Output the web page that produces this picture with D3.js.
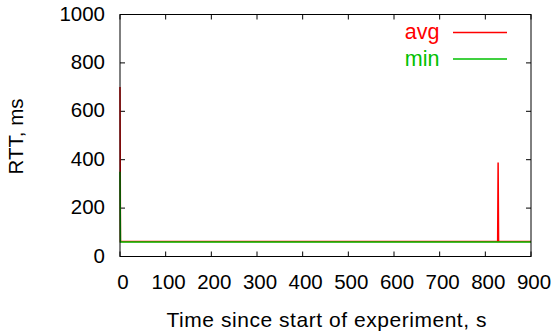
<!DOCTYPE html>
<html>
<head>
<meta charset="utf-8">
<script src="https://cdn.jsdelivr.net/npm/d3@7"></script>
<style>
  body { margin: 0; background: #fff; }
  text { font-family: "Liberation Sans", Arial, sans-serif; }
</style>
</head>
<body>
<svg id="chart" width="555" height="335"></svg>
<script>
// RTT samples, [time s, ms]
let avgData = [[0, 700], [1, 62], [827, 62], [828, 388], [829, 62], [900, 62]];
let minData = [[0, 350], [1, 60], [900, 60]];
let xTicks = [0, 100, 200, 300, 400, 500, 600, 700, 800, 900];
let yTicks = [0, 200, 400, 600, 800, 1000];
let seriesNames = ['avg', 'min'];
let seriesColors = ['#ff0000', '#00c000'];

let svg = d3.select('#chart');

let plotLeft = 120, plotRight = 531, plotTop = 14.5, plotBottom = 256.5;

let x = d3.scaleLinear()
          .domain([0, 900])
          .range([plotLeft, plotRight]);

let y = d3.scaleLinear()
          .domain([0, 1000])
          .range([plotBottom, plotTop]);

let tickLen = 5;

// ticks, inward and mirrored like gnuplot
let ticks = svg.append('g')
               .attr('stroke', '#000')
               .attr('stroke-width', 1);

ticks.selectAll('.xt')
     .data(xTicks)
     .enter()
     .append('path')
     .attr('d', d => `M${x(d)},${plotBottom}v${-tickLen}M${x(d)},${plotTop}v${tickLen}`);

ticks.selectAll('.yt')
     .data(yTicks)
     .enter()
     .append('path')
     .attr('d', d => `M${plotLeft},${y(d)}h${tickLen}M${plotRight},${y(d)}h${-tickLen}`);

svg.selectAll('.xlabel')
   .data(xTicks)
   .enter()
   .append('text')
   .attr('x', d => x(d) + 3)
   .attr('y', 289)
   .attr('text-anchor', 'middle')
   .attr('font-size', 20.5)
   .attr('fill', '#000')
   .text(d => d);

svg.selectAll('.ylabel')
   .data(yTicks)
   .enter()
   .append('text')
   .attr('x', 105)
   .attr('y', d => y(d) + 6)
   .attr('text-anchor', 'end')
   .attr('font-size', 20.5)
   .attr('fill', '#000')
   .text(d => d);

svg.append('text')
   .attr('x', 326.5)
   .attr('y', 327)
   .attr('text-anchor', 'middle')
   .attr('font-size', 21)
   .attr('textLength', 320)
   .attr('lengthAdjust', 'spacing')
   .text('Time since start of experiment, s');

svg.append('text')
   .attr('transform', 'translate(23,136.5) rotate(-90)')
   .attr('text-anchor', 'middle')
   .attr('font-size', 20.5)
   .text('RTT, ms');

let line = d3.line()
             .x(d => x(d[0]))
             .y(d => y(d[1]));

[avgData, minData].forEach((data, i) => {
    svg.append('path')
       .datum(data)
       .attr('d', line)
       .attr('fill', 'none')
       .attr('stroke', seriesColors[i])
       .attr('stroke-width', 1.5);
});

// border
svg.append('rect')
   .attr('x', plotLeft)
   .attr('y', plotTop)
   .attr('width', plotRight - plotLeft)
   .attr('height', plotBottom - plotTop)
   .attr('fill', 'none')
   .attr('stroke', '#000')
   .attr('stroke-width', 1);

// legend
let legend = svg.append('g');

legend.selectAll('text')
      .data(seriesNames)
      .enter()
      .append('text')
      .attr('x', 439.5)
      .attr('y', (d, i) => 39 + i * 26.5)
      .attr('text-anchor', 'end')
      .attr('font-size', 21.5)
      .attr('fill', (d, i) => seriesColors[i])
      .text(d => d);

legend.selectAll('line')
      .data(seriesNames)
      .enter()
      .append('line')
      .attr('x1', 453)
      .attr('x2', 507)
      .attr('y1', (d, i) => 32.5 + i * 26.5)
      .attr('y2', (d, i) => 32.5 + i * 26.5)
      .attr('stroke', (d, i) => seriesColors[i])
      .attr('stroke-width', 1.5);
</script>
</body>
</html>
